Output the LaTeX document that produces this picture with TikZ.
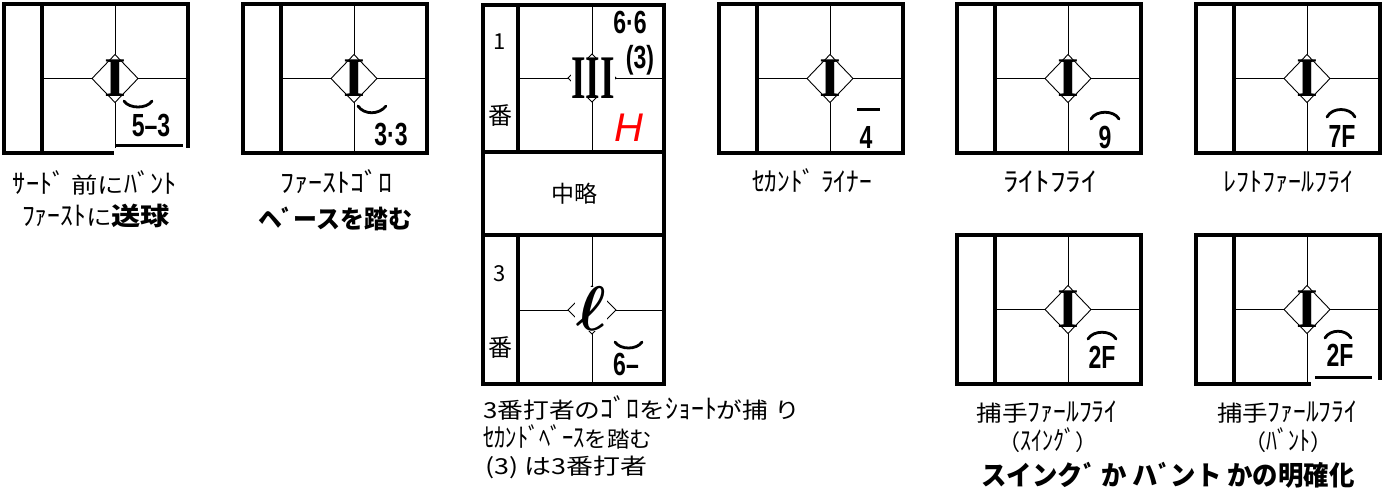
\documentclass[tikz,border=0pt]{standalone}
\usepackage{fontspec}
\usepackage{graphicx}
\usepackage{amsmath}
\setmainfont{Liberation Sans}
\newfontfamily\jp{Noto Sans CJK JP}
\newfontfamily\rs{Liberation Serif}
\newfontfamily\dg{Liberation Sans}
\newcommand\lbl{\jp\fontsize{22}{26}\selectfont}
\newcommand\numf{\dg\bfseries\fontsize{32}{32}\selectfont}
\newcommand\fitw[2]{\resizebox{#1pt}{\height}{#2}}
\newcommand\hw[1]{\scalebox{1}[1.22]{#1}}
\newcommand\bigI{\rs\bfseries\fontsize{56}{56}\selectfont\scalebox{1}[1]{I}}
\tikzset{
  outer/.style={line width=3.5pt, line join=miter},
  thinl/.style={line width=0.9pt},
  sym/.style={inner sep=0pt, outer sep=0pt},
  arcl/.style={line width=2.8pt, line cap=round},
}
\newcommand\scorecard[2]{%
  \begin{scope}[shift={(#1,#2)}]
    \draw[thinl] (111,0) -- (111,149);
    \draw[thinl] (38,74.5) -- (184,74.5);
    \draw[thinl, fill=white] (88,74.5) -- (111,50.5) -- (134,74.5) -- (111,98.5) -- cycle;
    \draw[outer] (0,0) rectangle (184,149);
    \draw[outer] (38,0) -- (38,149);
  \end{scope}}
\begin{document}
\begin{tikzpicture}[x=1pt,y=-1pt]
\useasboundingbox[fill=white] (0,0) rectangle (1391,495);

% ---------- box 1
\scorecard{4}{4}
\node[sym] (i1) at (115,78.5) {\bigI};
\fill[white] (114,148) rectangle (192,157);
\draw[line width=3pt] (116,145) -- (183,145);
\draw[arcl] (124,101) .. controls (129,109) and (147,109) .. (152,101);
\node[sym] (n1) at (151,126) {\numf\scalebox{0.72}[1]{5–3}};
\node (l1a) at (95,183) {\lbl\fitw{164}{\hw{ｻｰﾄﾞ} 前に\hw{ﾊﾞﾝﾄ}}};
\node (l1b) at (96,216) {\lbl\fitw{148}{\hw{ﾌｧｰｽﾄ}に{\bfseries\fontsize{25}{26}\selectfont 送球}}};

% ---------- box 2
\scorecard{243}{4}
\node[sym] (i2) at (354,78.5) {\bigI};
\draw[arcl] (358,106) .. controls (364,115) and (379,115) .. (386,106);
\node[sym] (n2) at (391,135) {\numf\scalebox{0.72}[1]{3·3}};
\node (l2a) at (336,182) {\lbl\fitw{112}{\hw{ﾌｧｰｽﾄｺﾞﾛ}}};
\node (l2b) at (335,219) {\lbl\fitw{154}{\bfseries\fontsize{25}{26}\selectfont ヘﾞースを踏む}};

% ---------- box 3 (two batters)
\draw[thinl] (592,5) -- (592,152);
\draw[thinl] (518,78) -- (664,78);
\draw[thinl] (592,235) -- (592,384);
\draw[thinl] (518,310) -- (664,310);
\draw[thinl, fill=white] (568,78) -- (592,54) -- (616,78) -- (592,102) -- cycle;
\draw[thinl, fill=white] (568,310) -- (592,286) -- (616,310) -- (592,334) -- cycle;
\draw[outer] (483,5) rectangle (664,384);
\draw[outer] (483,152) -- (664,152);
\draw[outer] (483,235) -- (664,235);
\draw[outer] (518,5) -- (518,152);
\draw[outer] (518,235) -- (518,384);
\node[sym, fill=white] (i3) at (593,78) {\rs\bfseries\fontsize{62}{62}\selectfont\scalebox{0.6}[1]{III}};
\node (b1) at (500,42) {\lbl 1};
\node (b1k) at (500,116) {\jp\fontsize{24}{24}\selectfont 番};
\node[sym] (n3a) at (630,22) {\numf\scalebox{0.72}[1]{6·6}};
\node[sym] (n3b) at (640,60) {\numf\scalebox{0.72}[1]{(3)}};
\node[sym, text=red] (h3) at (629,128) {\dg\itshape\fontsize{40}{40}\selectfont H};
\node (mid) at (574,194) {\jp\fontsize{23}{23}\selectfont 中略};
\node (b3) at (500,274) {\lbl 3};
\node (b3k) at (500,348) {\jp\fontsize{24}{24}\selectfont 番};
\node[sym, fill=white, inner xsep=1.5pt] (l3) at (591,309) {\scalebox{6.3}{$\boldsymbol{\ell}$}};
\draw[arcl] (615,342) .. controls (620,350) and (637,350) .. (642,342);
\node[sym] (n3c) at (626,364) {\numf\scalebox{0.72}[1]{6–}};
\node[anchor=west, inner sep=0pt] (l3a) at (483,408) {\lbl\fitw{317}{3番打者の\hw{ｺﾞﾛ}を\hw{ｼｮｰﾄ}が捕 り}};
\node[anchor=west, inner sep=0pt] (l3b) at (483,437) {\lbl\fitw{169}{\hw{ｾｶﾝﾄﾞﾍﾞｰｽ}を踏む}};
\node[anchor=west, inner sep=0pt] (l3c) at (485,467) {\lbl\fitw{162}{(3) は3番打者}};

% ---------- box 4
\scorecard{719}{4}
\node[sym] (i4) at (830,78.5) {\bigI};
\draw[line width=3pt] (857,109) -- (880,109);
\node[sym] (n4) at (866,137) {\numf\scalebox{0.72}[1]{4}};
\node (l4) at (812,181) {\lbl\fitw{120}{\hw{ｾｶﾝﾄﾞ ﾗｲﾅｰ}}};

% ---------- box 5
\scorecard{957}{4}
\node[sym] (i5) at (1068,78.5) {\bigI};
\draw[arcl] (1091,119) .. controls (1096,110) and (1114,110) .. (1119,119);
\node[sym] (n5) at (1105,137) {\numf\scalebox{0.72}[1]{9}};
\node (l5) at (1050,182) {\lbl\fitw{94}{\hw{ﾗｲﾄﾌﾗｲ}}};

% ---------- box 6
\scorecard{1196}{4}
\node[sym] (i6) at (1307,78.5) {\bigI};
\draw[arcl] (1327,117) .. controls (1332,107) and (1350,107) .. (1355,117);
\node[sym] (n6) at (1342,136) {\numf\scalebox{0.72}[1]{7F}};
\node (l6) at (1288,182) {\lbl\fitw{130}{\hw{ﾚﾌﾄﾌｧｰﾙﾌﾗｲ}}};

% ---------- box 7
\scorecard{957}{235}
\node[sym] (i7) at (1068,309.5) {\bigI};
\draw[arcl] (1088,339) .. controls (1093,330) and (1111,330) .. (1116,339);
\node[sym] (n7) at (1102,357) {\numf\scalebox{0.72}[1]{2F}};
\node (l7a) at (1047,412) {\lbl\fitw{141}{捕手\hw{ﾌｧｰﾙﾌﾗｲ}}};
\node (l7b) at (1048,440) {\lbl（\hw{ｽｲﾝｸﾞ}）};

% ---------- box 8
\scorecard{1196}{235}
\node[sym] (i8) at (1307,309.5) {\bigI};
\fill[white] (1311,380) rectangle (1384,388);
\draw[line width=3pt] (1315,377) -- (1372,377);
\draw[arcl] (1325,338) .. controls (1330,329) and (1346,329) .. (1351,338);
\node[sym] (n8) at (1340,355) {\numf\scalebox{0.72}[1]{2F}};
\node (l8a) at (1287,412) {\lbl\fitw{140}{捕手\hw{ﾌｧｰﾙﾌﾗｲ}}};
\node (l8b) at (1288,440) {\lbl（\hw{ﾊﾞﾝﾄ}）};

\node (concl) at (1168,475) {\jp\bfseries\fontsize{27}{27}\selectfont\fitw{373}{スインクﾞ か ハﾞント かの明確化}};
\end{tikzpicture}
\end{document}
